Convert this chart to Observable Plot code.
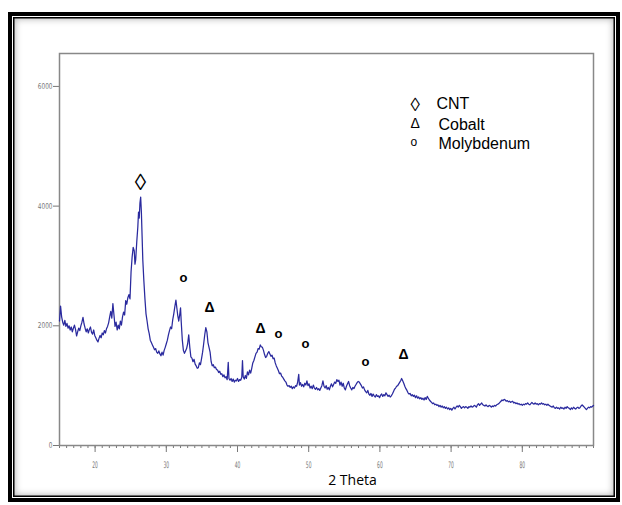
<!DOCTYPE html>
<html><head><meta charset="utf-8">
<script src="https://cdn.jsdelivr.net/npm/d3@7"></script>
<script src="https://cdn.jsdelivr.net/npm/@observablehq/plot@0.6"></script>
<style>
body{margin:0;background:#fff;}
#wrap{position:relative;width:622px;height:505px;overflow:hidden;background:#fff}
#wrap svg{position:absolute;left:0;top:0}
#frame{position:absolute;left:8px;top:12px;width:612px;height:490px;box-sizing:border-box;border:4px solid #000;
box-shadow: inset 0 0 0 1px #fff, inset 0 0 0 2.5px #000, inset 0 0 7px 3px rgba(0,0,0,0.3);pointer-events:none}
</style></head><body><div id="wrap"><div id="frame"></div></div>
<script>
const xTicks = [20,30,40,50,60,70,80];
const yTicks = [0,2000,4000,6000];
const xLabel = "2 Theta";

const legendSymbols = ["◊","Δ","o"];
const legendLabels = ["CNT","Cobalt","Molybdenum"];

const peakX = [26.38, 32.4, 36.07, 43.23, 45.76, 49.55, 57.98, 63.31];
const peakY = [4391, 2799, 2313, 1961, 1860, 1693, 1391, 1525];
const peakSymbol = ["◊","o","Δ","Δ","o","o","o","Δ"];

const pattern = [
[15.0,2080],[15.15,2330],[15.3,2150],[15.45,2060],[15.6,2010],[15.75,2090],[15.9,1990],[16.05,2040],[16.2,1960],[16.35,2000],
[16.5,1930],[16.65,1980],[16.8,1900],[16.95,1960],[17.1,2010],[17.25,1940],[17.4,1830],[17.55,1900],[17.7,1960],[17.85,1920],
[18.0,2000],[18.15,2060],[18.3,2140],[18.45,2030],[18.6,1960],[18.75,1900],[18.9,1950],[19.05,1880],[19.2,1940],[19.35,1980],
[19.5,1890],[19.65,1860],[19.8,1930],[19.95,1840],[20.1,1800],[20.25,1760],[20.4,1730],[20.55,1790],[20.7,1840],[20.85,1800],
[21.0,1880],[21.15,1850],[21.3,1920],[21.45,1880],[21.6,1950],[21.75,1990],[21.9,2050],[22.05,2150],[22.2,2240],[22.35,2130],
[22.5,2370],[22.65,2180],[22.8,1990],[22.95,2060],[23.1,1930],[23.25,2010],[23.4,1950],[23.55,2080],[23.7,2010],[23.85,2150],
[24.0,2230],[24.15,2180],[24.3,2420],[24.45,2360],[24.6,2470],[24.75,2520],[24.9,2450],[25.05,2900],[25.2,3150],[25.35,3310],
[25.5,3250],[25.6,3030],[25.7,3100],[25.85,3400],[26.0,3650],[26.1,3900],[26.2,3800],[26.3,4050],[26.4,4150],[26.5,3900],
[26.6,3500],[26.7,3100],[26.85,2750],[27.0,2450],[27.15,2200],[27.3,2080],[27.45,1950],[27.6,1870],[27.75,1760],[27.9,1720],
[28.05,1680],[28.2,1640],[28.35,1600],[28.5,1620],[28.65,1560],[28.8,1540],[28.95,1580],[29.1,1530],[29.25,1500],[29.4,1560],
[29.55,1510],[29.7,1590],[29.85,1640],[30.0,1700],[30.15,1760],[30.3,1850],[30.45,1920],[30.6,1980],[30.75,1950],[30.9,2100],
[31.05,2200],[31.2,2320],[31.35,2430],[31.5,2280],[31.6,2180],[31.75,2080],[31.9,2200],[32.0,2300],[32.1,2060],[32.25,1760],
[32.4,1590],[32.55,1540],[32.7,1580],[32.85,1620],[33.0,1700],[33.15,1850],[33.3,1640],[33.45,1480],[33.6,1460],[33.75,1400],
[33.9,1440],[34.05,1360],[34.2,1330],[34.35,1290],[34.5,1300],[34.65,1380],[34.8,1350],[34.95,1450],[35.1,1560],[35.25,1700],
[35.4,1850],[35.55,1970],[35.7,1900],[35.85,1720],[36.0,1640],[36.15,1560],[36.3,1400],[36.45,1330],[36.6,1350],[36.75,1300],
[36.9,1310],[37.05,1270],[37.2,1260],[37.35,1220],[37.5,1240],[37.65,1190],[37.8,1200],[37.95,1150],[38.1,1180],[38.25,1130],
[38.4,1150],[38.55,1100],[38.7,1390],[38.8,1120],[38.95,1090],[39.1,1120],[39.25,1070],[39.4,1110],[39.55,1060],[39.7,1090],
[39.85,1080],[40.0,1120],[40.15,1070],[40.3,1100],[40.45,1090],[40.6,1140],[40.7,1420],[40.8,1150],[40.95,1110],[41.1,1170],
[41.25,1120],[41.4,1230],[41.55,1180],[41.7,1260],[41.85,1210],[42.0,1290],[42.15,1380],[42.3,1420],[42.45,1480],[42.6,1540],
[42.75,1560],[42.9,1620],[43.05,1610],[43.2,1680],[43.35,1650],[43.5,1640],[43.65,1590],[43.8,1520],[43.95,1470],[44.1,1490],
[44.25,1540],[44.4,1570],[44.55,1530],[44.7,1490],[44.85,1510],[45.0,1450],[45.15,1460],[45.3,1380],[45.45,1330],[45.6,1290],
[45.75,1250],[45.9,1200],[46.05,1210],[46.2,1160],[46.35,1140],[46.5,1110],[46.65,1080],[46.8,1060],[46.95,1010],[47.1,990],
[47.25,1000],[47.4,970],[47.55,990],[47.7,950],[47.85,980],[48.0,960],[48.15,1000],[48.3,990],[48.45,1060],[48.6,1190],
[48.7,1010],[48.85,1050],[49.0,990],[49.15,1020],[49.3,980],[49.45,1040],[49.6,1010],[49.75,1080],[49.9,1000],[50.05,1030],
[50.2,960],[50.35,990],[50.5,950],[50.65,1010],[50.8,960],[50.95,940],[51.1,970],[51.25,930],[51.4,950],[51.55,920],
[51.7,960],[51.85,1000],[52.0,1080],[52.15,990],[52.3,960],[52.45,1000],[52.6,940],[52.75,970],[52.9,930],[53.05,990],
[53.2,1030],[53.35,980],[53.5,1020],[53.65,1060],[53.8,1040],[53.95,1100],[54.1,1070],[54.25,1090],[54.4,1010],[54.55,1060],
[54.7,990],[54.85,1040],[55.0,960],[55.15,930],[55.3,990],[55.45,1030],[55.6,1070],[55.75,1000],[55.9,960],[56.05,930],
[56.2,970],[56.35,950],[56.5,990],[56.65,1020],[56.8,1050],[56.95,1070],[57.1,1060],[57.25,1030],[57.4,1000],[57.55,960],
[57.7,980],[57.85,930],[58.0,900],[58.15,880],[58.3,920],[58.45,860],[58.6,840],[58.75,870],[58.9,820],[59.05,860],
[59.2,830],[59.35,810],[59.5,850],[59.65,820],[59.8,830],[59.95,800],[60.1,840],[60.25,860],[60.4,820],[60.55,850],
[60.7,830],[60.85,880],[61.0,850],[61.15,820],[61.3,840],[61.45,810],[61.6,830],[61.75,860],[61.9,900],[62.05,940],
[62.2,960],[62.35,990],[62.5,1000],[62.65,1030],[62.8,1060],[62.95,1090],[63.05,1120],[63.2,1080],[63.35,1040],[63.5,990],
[63.65,950],[63.8,920],[63.95,880],[64.1,860],[64.25,870],[64.4,830],[64.55,850],[64.7,820],[64.85,840],[65.0,800],
[65.15,830],[65.3,790],[65.45,810],[65.6,780],[65.75,800],[65.9,770],[66.05,790],[66.2,760],[66.35,800],[66.5,770],
[66.65,820],[66.8,790],[66.95,760],[67.1,740],[67.25,720],[67.4,700],[67.55,710],[67.7,680],[67.85,690],[68.0,670],
[68.15,680],[68.3,650],[68.45,670],[68.6,640],[68.75,660],[68.9,630],[69.05,650],[69.2,620],[69.35,640],[69.5,610],
[69.65,630],[69.8,600],[69.95,620],[70.1,590],[70.25,620],[70.4,640],[70.55,610],[70.7,640],[70.85,660],[71.0,640],
[71.15,670],[71.3,650],[71.45,620],[71.6,640],[71.75,650],[71.9,630],[72.05,650],[72.2,640],[72.35,620],[72.5,650],
[72.65,640],[72.8,660],[72.95,640],[73.1,650],[73.25,670],[73.4,660],[73.55,640],[73.7,680],[73.85,700],[74.0,670],
[74.15,690],[74.3,710],[74.45,680],[74.6,670],[74.75,660],[74.9,680],[75.05,660],[75.2,650],[75.35,670],[75.5,660],
[75.65,640],[75.8,660],[75.95,650],[76.1,670],[76.25,660],[76.4,680],[76.55,690],[76.7,700],[76.85,720],[77.0,740],
[77.15,760],[77.3,750],[77.45,770],[77.6,760],[77.75,740],[77.9,750],[78.05,730],[78.2,740],[78.35,720],[78.5,730],
[78.65,740],[78.8,710],[78.95,720],[79.1,700],[79.25,710],[79.4,690],[79.55,700],[79.7,680],[79.85,690],[80.0,670],
[80.15,690],[80.3,680],[80.45,700],[80.6,690],[80.75,710],[80.9,690],[81.05,680],[81.2,700],[81.35,720],[81.5,700],
[81.65,690],[81.8,710],[81.95,690],[82.1,700],[82.25,680],[82.4,700],[82.55,690],[82.7,710],[82.85,690],[83.0,700],
[83.15,680],[83.3,690],[83.45,670],[83.6,690],[83.75,670],[83.9,660],[84.05,650],[84.2,640],[84.35,660],[84.5,630],
[84.65,620],[84.8,640],[84.95,620],[85.1,630],[85.25,610],[85.4,640],[85.55,620],[85.7,630],[85.85,610],[86.0,640],
[86.15,620],[86.3,650],[86.45,630],[86.6,620],[86.75,600],[86.9,630],[87.05,610],[87.2,640],[87.35,620],[87.5,610],
[87.65,630],[87.8,640],[87.95,620],[88.1,630],[88.25,660],[88.4,680],[88.55,660],[88.7,640],[88.85,620],[89.0,600],
[89.15,620],[89.3,640],[89.45,630],[89.6,650],[89.75,640],[89.9,660],[90.0,670]
];

const peaks = peakX.map((x,i)=>({x, y: peakY[i], s: peakSymbol[i]}));
const legend = legendLabels.map((label,i)=>({label, sym: legendSymbols[i], i}));
const fontA = "Liberation Sans, Arial, sans-serif";

const marks = [
  Plot.axisX({ticks: d3.range(15, 91, 1), tickSize: 3, text: null, stroke: "#777", label: null}),
  Plot.axisX({ticks: xTicks, tickSize: 7, tickPadding: 9, stroke: "#777", fill: "#777", fontSize: 9, label: null, tickFormat: d => String(d)}),
  Plot.axisY({ticks: yTicks, tickSize: 6, tickPadding: 1, stroke: "#777", fill: "#777", fontSize: 8, label: null, tickFormat: d => String(d)}),
  Plot.frame({stroke: "#888", strokeWidth: 1.5}),
  Plot.line(pattern, {x: d => d[0], y: d => d[1], stroke: "#2a2a9e", strokeWidth: 1.25}),
  Plot.text(peaks.filter(d => d.s === "◊"), {x: "x", y: "y", text: "s", fontSize: 23, fontFamily: fontA, fill: "#000"}),
  Plot.text(peaks.filter(d => d.s === "Δ"), {x: "x", y: "y", text: "s", fontSize: 14, fontWeight: "bold", fontFamily: fontA, fill: "#000"}),
  Plot.text(peaks.filter(d => d.s === "o"), {x: "x", y: "y", text: "s", fontSize: 13, fontWeight: "bold", fontFamily: fontA, fill: "#000"}),
  Plot.text([xLabel], {frameAnchor: "bottom", dx: 26, dy: 39, text: d => d, fontSize: 14, fontFamily: "Open Sans, sans-serif", fill: "#000"})
];
const legendDy = [44, 65, 84];
const legendSymSize = [19, 14, 12];
legend.forEach((d, i) => {
  marks.push(Plot.text([d], {frameAnchor: "top-left", dx: 351, dy: legendDy[i], text: "sym", fontSize: legendSymSize[i], fontFamily: fontA, fill: "#000"}));
  marks.push(Plot.text([d], {frameAnchor: "top-left", dx: i === 0 ? 377 : 379, dy: legendDy[i], text: "label", textAnchor: "start", fontSize: 16, fontFamily: fontA, fill: "#000"}));
});

const plot = Plot.plot({
  width: 622, height: 505,
  marginLeft: 59, marginRight: 29, marginTop: 53, marginBottom: 60,
  style: {background: "transparent", fontFamily: "DejaVu Sans Condensed, DejaVu Sans, sans-serif", color: "#777"},
  x: {domain: [15, 90]},
  y: {domain: [0, 6550]},
  marks
});

d3.select(plot).selectAll('g[aria-label="x-axis tick label"] text').each(function(){
  const t = this.getAttribute("transform") || "";
  this.setAttribute("transform", t + " scale(0.55,1)");
});
d3.select(plot).selectAll('g[aria-label="y-axis tick label"] text').each(function(){
  const t = this.getAttribute("transform") || "";
  this.setAttribute("transform", t + " scale(0.8,1)");
});
document.getElementById("wrap").insertBefore(plot, document.getElementById("frame"));
</script>
</body></html>
